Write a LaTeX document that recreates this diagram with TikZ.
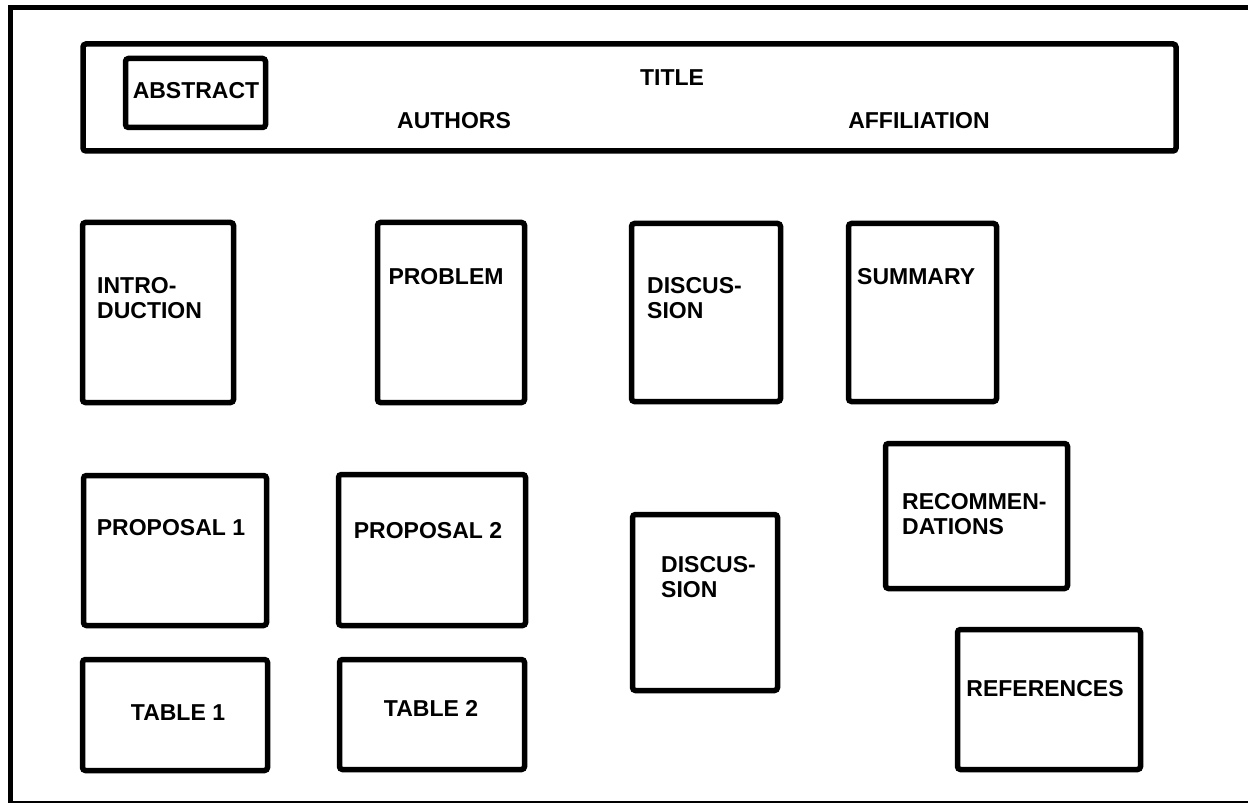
\documentclass[tikz,border=0pt]{standalone}
\usepackage{fontspec}
\setmainfont{Liberation Sans}
\usetikzlibrary{fit}
\tikzset{
  box/.style={draw=black, line width=5.5pt, rounded corners=3pt, inner sep=0pt},
  lbl/.style={inner sep=0pt, font=\fontsize{23}{24.5}\selectfont\bfseries},
  lbll/.style={lbl, align=left, anchor=west},
  frame/.style={line width=5pt},
}
\begin{document}
\begin{tikzpicture}[x=1pt,y=-1pt]
\useasboundingbox (0,0) rectangle (1248,805);
% outer frame
\coordinate (ftr) at (1248,8);
\coordinate (ftl) at (10,8);
\coordinate (fbl) at (10,802);
\coordinate (fbr) at (1248,802);
\draw[frame] (ftr) -- (ftl) -- ([yshift=-1pt]fbl);
\draw[line width=2pt] (fbl) -- (fbr);
% header
\node[box, fit={(83,44) (1176,151)}] (header) {};
\node[box, fit={(125.5,58.5) (265.5,127.5)}] (abstract) {};
\node[lbl] (tabstract) at (196,91) {ABSTRACT};
\node[lbl] (ttitle) at (672,78) {TITLE};
\node[lbl] (tauthors) at (454,121) {AUTHORS};
\node[lbl] (taffil) at (919,121) {AFFILIATION};
% row 1
\node[box, fit={(82.5,222.5) (233.5,402.5)}] (intro) {};
\node[lbll] (tintro) at (97,298) {INTRO-\\DUCTION};
\node[box, fit={(377.5,222.5) (524.5,402.5)}] (problem) {};
\node[lbl] (tproblem) at (446,277) {PROBLEM};
\node[box, fit={(631.5,223.5) (780.5,401.5)}] (disc1) {};
\node[lbll] (tdisc1) at (647,298) {DISCUS-\\SION};
\node[box, fit={(848.5,223.5) (996.5,401.5)}] (summary) {};
\node[lbll] (tsummary) at (857,277) {SUMMARY};
% row 2
\node[box, fit={(83.5,475.5) (266.5,625.5)}] (prop1) {};
\node[lbl] (tprop1) at (171,528) {PROPOSAL 1};
\node[box, fit={(338.5,474.5) (525.5,625.5)}] (prop2) {};
\node[lbl] (tprop2) at (428,531) {PROPOSAL 2};
\node[box, fit={(632.5,514.5) (777.5,690.5)}] (disc2) {};
\node[lbll] (tdisc2) at (661,577) {DISCUS-\\SION};
\node[box, fit={(885.5,443.5) (1067.5,588.5)}] (recomm) {};
\node[lbll] (trecomm) at (902,514) {RECOMMEN-\\DATIONS};
% row 3
\node[box, fit={(82.5,659.5) (267.5,770.5)}] (table1) {};
\node[lbl] (ttable1) at (178,713) {TABLE 1};
\node[box, fit={(339.5,659.5) (524.5,769.5)}] (table2) {};
\node[lbl] (ttable2) at (431,708) {TABLE 2};
\node[box, fit={(957.5,629.5) (1140.5,769.5)}] (refs) {};
\node[lbl] (trefs) at (1045,689) {REFERENCES};
\end{tikzpicture}
\end{document}
